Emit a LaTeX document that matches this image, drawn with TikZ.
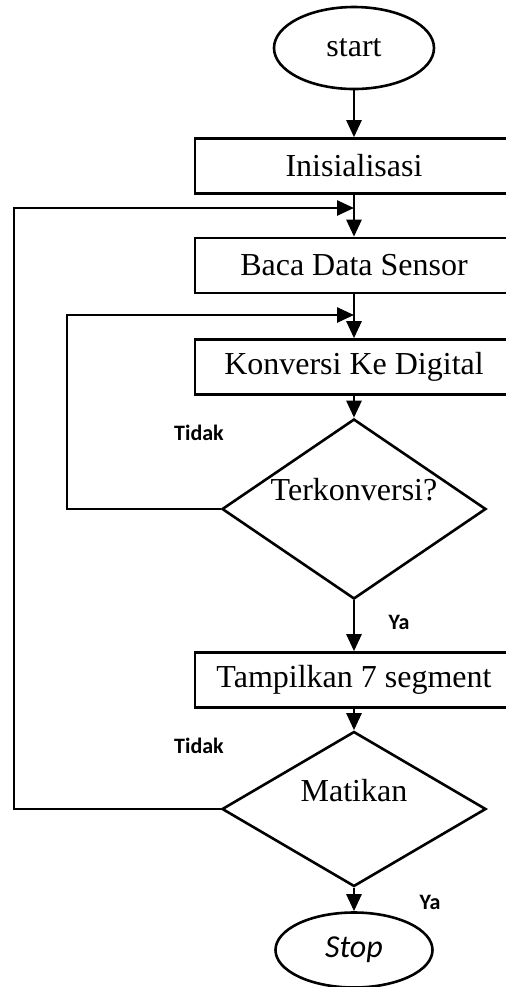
\documentclass[tikz,border=0pt]{standalone}
\usepackage{fontspec}
\setmainfont{Liberation Serif}
\newfontfamily\lblfont{Carlito}
\usetikzlibrary{shapes.geometric,arrows.meta}

\begin{document}
\begin{tikzpicture}[x=0.5pt,y=-0.5pt,
        line width=1.3pt,
        font=\fontsize{16}{19}\selectfont,
        proses/.style={draw, rectangle, minimum width=159pt, minimum height=27.5pt, inner sep=0pt},
        ujung/.style={draw, ellipse, inner sep=0pt},
        cek/.style={draw, diamond, inner sep=0pt, minimum width=132pt, minimum height=90pt},
        ket/.style={font=\lblfont\bfseries\fontsize{11}{13}\selectfont},
        panah/.style={-{Triangle[length=8.5pt,width=7.5pt]}}]
    \useasboundingbox (0,0) rectangle (506,987);

    \node[ujung, minimum width=80pt, minimum height=41pt] (start) at (354,48) {start};
    \node[proses] (init) at (354,166) {Inisialisasi};
    \node[proses] (baca) at (354,265.5) {Baca Data Sensor};
    \node[proses] (konv) at (354,367) {Konversi Ke Digital};
    \node[cek] (cek1) at (354,509) {\raisebox{4.5pt}[0pt][0pt]{Terkonversi?}};
    \node[proses] (tampil) at (354,680) {Tampilkan 7 segment};
    \node[cek, minimum height=77.5pt] (cek2) at (354,809) {\raisebox{4pt}[0pt][0pt]{Matikan}};
    \node[ujung, minimum width=78.5pt, minimum height=37.5pt,
          font=\lblfont\itshape\fontsize{16}{19}\selectfont] (stop) at (354,950) {Stop};

    \node[ket] (tidak1) at (199,433) {Tidak};
    \node[ket] (ya1) at (399,622) {Ya};
    \node[ket] (tidak2) at (199,746) {Tidak};
    \node[ket] (ya2) at (430,902) {Ya};

    \coordinate (luar) at (14,208);
    \coordinate (dalam) at (67,315);

    \draw[panah] (start) -- (init);
    \draw[panah] (init) -- (baca);
    \draw[panah] (baca) -- (konv);
    \draw[panah] (konv) -- (cek1);
    \draw[panah] (cek1) -- (tampil);
    \draw[panah] (tampil) -- (cek2);
    \draw[panah] (cek2) -- (stop);

    % loop kembali
    \draw[panah] (cek1.west) -| (dalam) -- (dalam -| konv.north);
    \draw[panah] (cek2.west) -| (luar) -- (luar -| baca.north);
\end{tikzpicture}
\end{document}
